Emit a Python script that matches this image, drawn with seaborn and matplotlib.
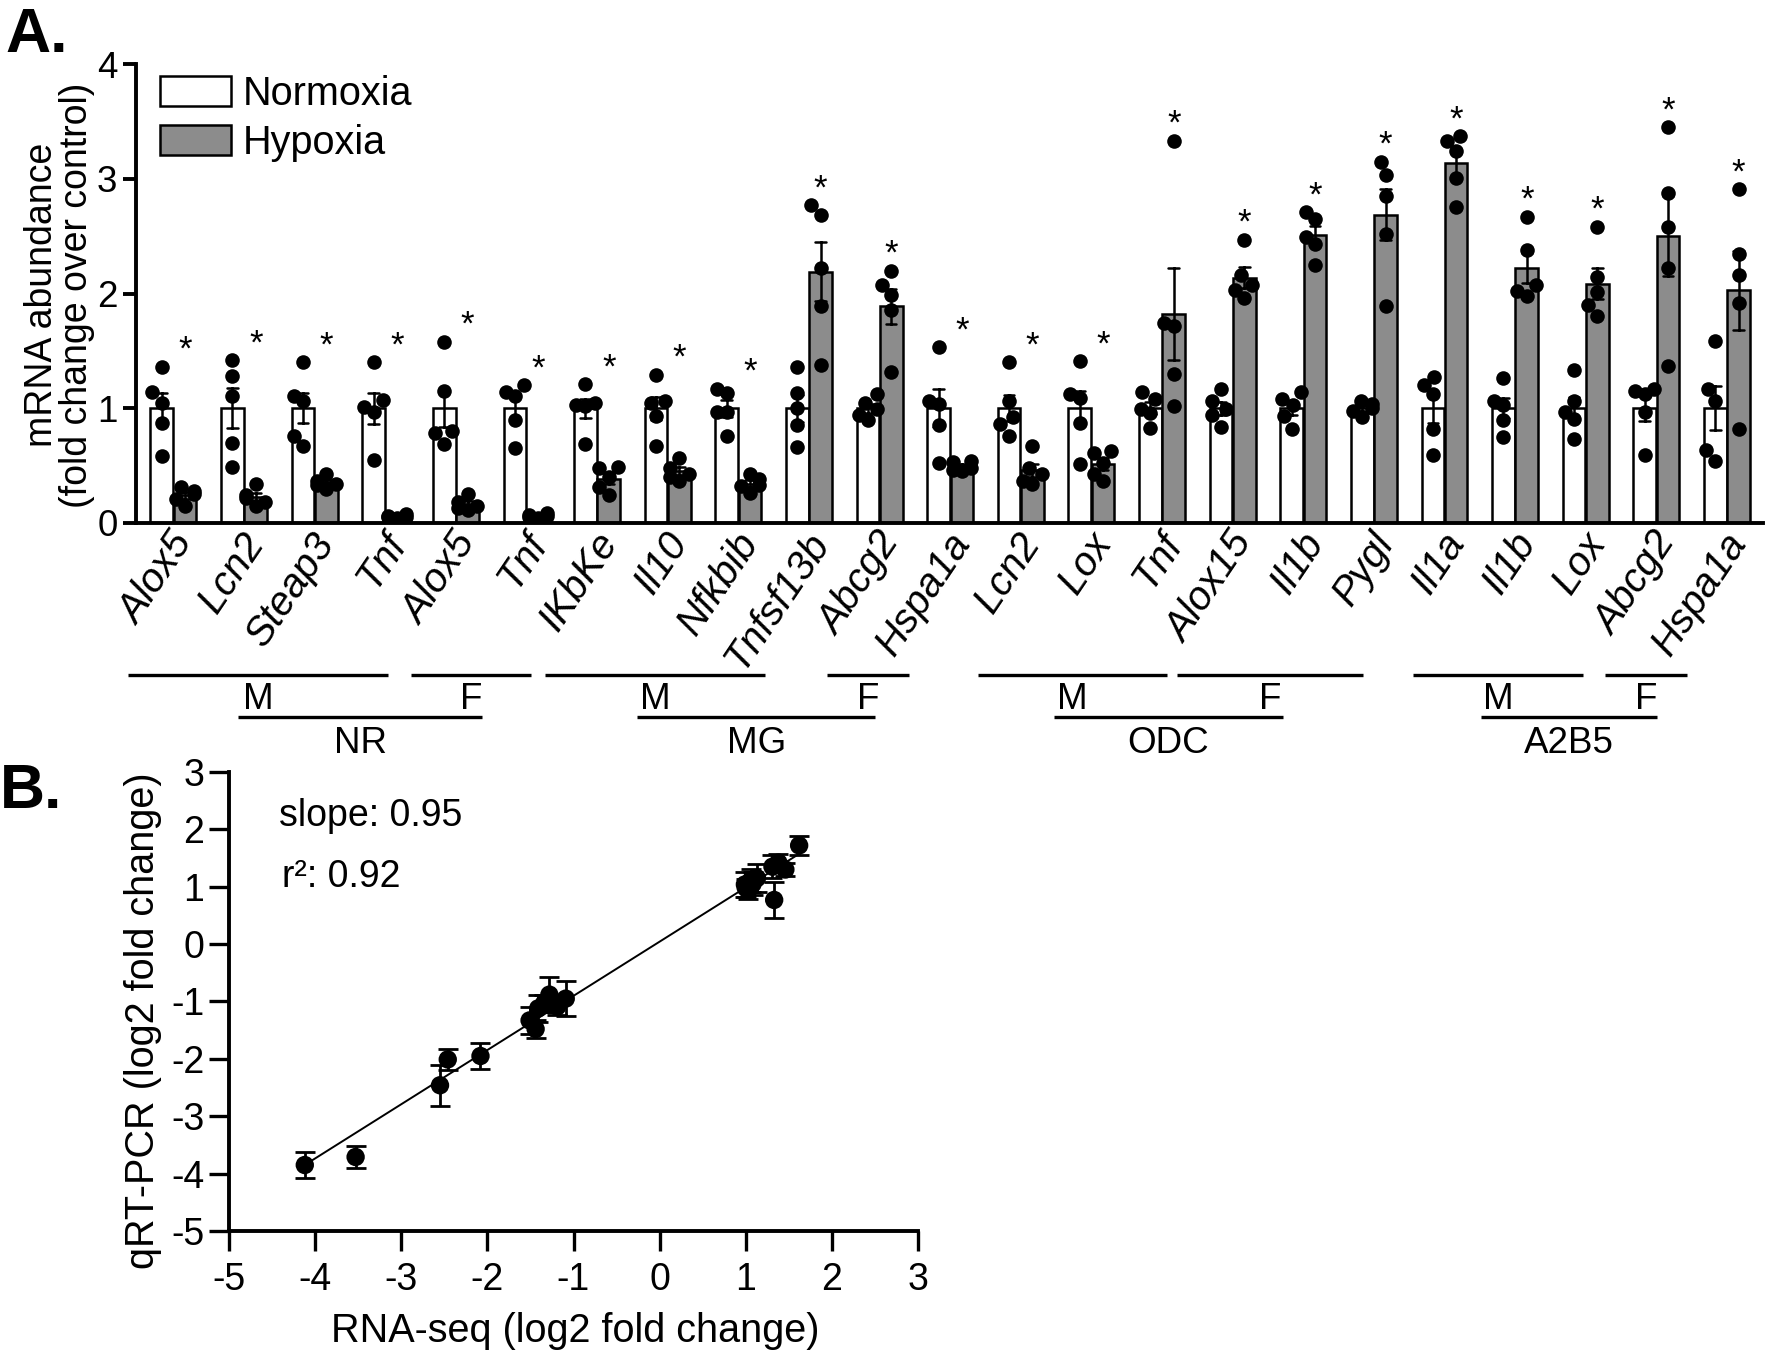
import numpy as np
import pandas as pd
import matplotlib
matplotlib.use("Agg")
import matplotlib.pyplot as plt
import matplotlib.transforms as mtransforms
import seaborn as sns

# ---------------- data (panel A) ----------------
genes = ["Alox5", "Lcn2", "Steap3", "Tnf", "Alox5", "Tnf", "IKbKe", "Il10",
         "Nfkbib", "Tnfsf13b", "Abcg2", "Hspa1a", "Lcn2", "Lox", "Tnf",
         "Alox15", "Il1b", "Pygl", "Il1a", "Il1b", "Lox", "Abcg2", "Hspa1a"]
conditions = ["Normoxia", "Hypoxia"]

normoxia_points = [
    [1.36, 1.14, 1.05, 0.87, 0.58],
    [1.42, 1.28, 1.11, 0.70, 0.49],
    [1.40, 1.11, 1.06, 0.76, 0.67],
    [1.40, 1.07, 1.01, 0.97, 0.55],
    [1.58, 1.15, 0.80, 0.78, 0.69],
    [1.20, 1.14, 1.11, 0.90, 0.65],
    [1.21, 1.05, 1.03, 1.02, 0.69],
    [1.29, 1.06, 1.05, 0.93, 0.67],
    [1.17, 1.13, 0.97, 0.97, 0.76],
    [1.36, 1.13, 1.00, 0.85, 0.66],
    [1.12, 1.05, 0.99, 0.94, 0.90],
    [1.53, 1.06, 1.04, 0.85, 0.52],
    [1.40, 1.06, 0.92, 0.86, 0.76],
    [1.41, 1.12, 1.09, 0.87, 0.51],
    [1.14, 1.08, 0.99, 0.96, 0.83],
    [1.17, 1.06, 0.99, 0.94, 0.84],
    [1.14, 1.08, 1.03, 0.93, 0.82],
    [1.06, 1.04, 1.00, 0.98, 0.92],
    [1.27, 1.20, 1.12, 0.82, 0.59],
    [1.26, 1.06, 1.03, 0.90, 0.75],
    [1.33, 1.06, 0.97, 0.91, 0.73],
    [1.17, 1.15, 1.12, 0.97, 0.59],
    [1.59, 1.17, 1.06, 0.64, 0.54],
]

hypoxia_points = [
    [0.31, 0.28, 0.25, 0.21, 0.15],
    [0.34, 0.24, 0.22, 0.18, 0.15],
    [0.43, 0.37, 0.34, 0.33, 0.30],
    [0.08, 0.06, 0.05, 0.05, 0.04],
    [0.25, 0.18, 0.15, 0.13, 0.11],
    [0.09, 0.07, 0.06, 0.05, 0.04],
    [0.49, 0.48, 0.40, 0.31, 0.24],
    [0.57, 0.48, 0.43, 0.40, 0.37],
    [0.43, 0.38, 0.33, 0.32, 0.26],
    [2.77, 2.68, 2.22, 1.89, 1.38],
    [2.20, 2.07, 1.99, 1.86, 1.32],
    [0.54, 0.53, 0.48, 0.46, 0.45],
    [0.67, 0.48, 0.43, 0.37, 0.34],
    [0.63, 0.61, 0.52, 0.43, 0.37],
    [3.33, 1.74, 1.72, 1.30, 1.02],
    [2.47, 2.16, 2.07, 2.03, 1.96],
    [2.71, 2.65, 2.49, 2.43, 2.25],
    [3.15, 3.03, 2.85, 2.52, 1.89],
    [3.37, 3.33, 3.24, 3.01, 2.75],
    [2.67, 2.38, 2.07, 2.02, 1.98],
    [2.58, 2.14, 2.01, 1.90, 1.80],
    [3.45, 2.88, 2.58, 2.22, 1.37],
    [2.91, 2.34, 2.16, 1.92, 0.82],
]

sex_labels = ["M", "F", "M", "F", "M", "F", "M", "F"]
cell_labels = ["NR", "MG", "ODC", "A2B5"]

# ---------------- data (panel B) ----------------
rna_seq = [-4.12, -3.53, -2.55, -2.46, -2.08, -1.51, -1.44, -1.41, -1.34,
           -1.28, -1.19, -1.09, 0.99, 1.03, 1.06, 1.13, 1.31, 1.38, 1.33,
           1.46, 1.62, 1.00, 1.08]
qpcr = [-3.85, -3.71, -2.46, -2.01, -1.95, -1.33, -1.48, -1.12, -1.03,
        -0.88, -1.09, -0.95, 1.04, 0.94, 1.11, 1.15, 1.35, 1.42, 0.77,
        1.30, 1.72, 0.98, 1.05]
qpcr_sem = [0.23, 0.20, 0.36, 0.19, 0.23, 0.24, 0.15, 0.24, 0.15, 0.30,
            0.15, 0.30, 0.22, 0.15, 0.20, 0.25, 0.20, 0.15, 0.31, 0.12,
            0.17, 0.15, 0.20]
slope_text = "slope: 0.95"
r2_text = "r\u00b2: 0.92"

# ---------------- layout (not data) ----------------
half = 0.165
sex_spans = [(-0.64, 3.04), (3.36, 5.06), (5.26, 8.38), (9.26, 10.42),
             (11.40, 14.07), (14.21, 16.85), (17.56, 19.96), (20.27, 21.44)]
cell_spans = [(0.92, 4.37), (6.57, 9.94), (12.47, 15.71), (18.51, 21.01)]

sns.set_style("ticks")
plt.rcParams["font.family"] = ["Liberation Sans", "DejaVu Sans"]
plt.rcParams["axes.unicode_minus"] = False
plt.rcParams["axes.linewidth"] = 2.8
for key in ["text.color", "axes.labelcolor", "xtick.color", "ytick.color",
            "axes.edgecolor"]:
    plt.rcParams[key] = "black"

W, H = 1770, 1356
fig = plt.figure(figsize=(W / 100, H / 100), dpi=100)

# ================= Panel A =================
axA = fig.add_axes([136 / W, 1 - 523 / H, (1763 - 136) / W, (523 - 64) / H])

rows = []
for i, g in enumerate(genes):
    for cond, pts in (("Normoxia", normoxia_points[i]), ("Hypoxia", hypoxia_points[i])):
        for v in pts:
            rows.append(dict(idx=i, gene=g, cond=cond,
                             pos=i + (-half if cond == "Normoxia" else half),
                             value=v))
df = pd.DataFrame(rows)

palette = {"Normoxia": "white", "Hypoxia": "#8c8c8c"}
sns.barplot(data=df, x="pos", y="value", hue="cond", hue_order=conditions,
            palette=palette, native_scale=True, width=0.97, errorbar="se",
            capsize=0.45, err_kws=dict(color="black", linewidth=1.8),
            edgecolor="black", linewidth=1.8, saturation=1, ax=axA)
sns.swarmplot(data=df, x="pos", y="value", native_scale=True, orient="x",
              color="black", size=10.5, linewidth=0, legend=False,
              warn_thresh=1, ax=axA)

# significance asterisks
for i in range(len(genes)):
    top = max(max(normoxia_points[i]), max(hypoxia_points[i]))
    axA.text(i + half, top + 0.06, "*", ha="center", va="baseline",
             fontsize=25)

axA.set_xlim(-0.53, 22.51)
axA.set_ylim(0, 4)
axA.set_yticks([0, 1, 2, 3, 4])
axA.set_xticks(range(len(genes)))
axA.set_xticklabels(genes, rotation=56, ha="right", va="center",
                    rotation_mode="anchor", fontstyle="italic", fontsize=29)
axA.tick_params(axis="x", length=0, pad=9.5)
axA.tick_params(axis="y", length=9.4, width=2.8, pad=4, labelsize=26.5)
offset = mtransforms.ScaledTranslation(0.12, 0, fig.dpi_scale_trans)
for lab in axA.get_xticklabels():
    lab.set_transform(lab.get_transform() + offset)
sns.despine(ax=axA)
axA.set_xlabel("")
axA.set_ylabel("mRNA abundance\n(fold change over control)", fontsize=27,
               linespacing=0.95)
axA.yaxis.set_label_coords(-0.0252, 0.497)

sns.move_legend(axA, "upper left", bbox_to_anchor=(0.01475, 0.976),
                frameon=False, title=None, fontsize=28.5, handlelength=1.79,
                handleheight=0.78, handletextpad=0.3, labelspacing=0.27,
                borderaxespad=0, borderpad=0)
leg = axA.get_legend()
for p in leg.get_patches():
    p.set_edgecolor("black")
    p.set_linewidth(1.8)

# group annotation bars under axis
for lab, (a, b) in zip(sex_labels, sex_spans):
    axA.plot([a, b], [-1.325, -1.325], color="black", lw=2.4, clip_on=False,
             solid_capstyle="butt")
    axA.text((a + b) / 2, -1.54, lab, ha="center", va="center", fontsize=26.5)
for lab, (a, b) in zip(cell_labels, cell_spans):
    axA.plot([a, b], [-1.69, -1.69], color="black", lw=2.4, clip_on=False,
             solid_capstyle="butt")
    axA.text((a + b) / 2, -1.92, lab, ha="center", va="center", fontsize=26.5)

# ================= Panel B =================
axB = fig.add_axes([229 / W, 1 - 1231 / H, (918 - 229) / W, (1231 - 772) / H])
sns.regplot(x=rna_seq, y=qpcr, scatter=False, ci=None, truncate=True,
            color="black", line_kws=dict(lw=1.4), ax=axB)
axB.errorbar(rna_seq, qpcr, yerr=qpcr_sem, fmt="none", ecolor="black",
             elinewidth=2.0, capsize=7, capthick=2.0, zorder=2)
sns.scatterplot(x=rna_seq, y=qpcr, color="black", s=175, edgecolor="none",
                ax=axB, zorder=3)
axB.set_xlim(-5, 3)
axB.set_ylim(-5, 3)
axB.set_xticks(range(-5, 4))
axB.set_yticks(range(-5, 4))
axB.tick_params(axis="both", length=14.4, width=2.4, labelsize=27)
axB.tick_params(axis="x", pad=8)
axB.tick_params(axis="y", pad=3.5)
sns.despine(ax=axB)
axB.set_xlabel("RNA-seq (log2 fold change)", fontsize=28.5)
axB.set_ylabel("qRT-PCR (log2 fold change)", fontsize=28.5)
axB.xaxis.set_label_coords(0.503, -0.176)
axB.yaxis.set_label_coords(-0.097, 0.459)
axB.text(0.0726, 0.882, slope_text, transform=axB.transAxes, fontsize=27,
         ha="left", va="baseline")
axB.text(0.077, 0.749, r2_text, transform=axB.transAxes, fontsize=27,
         ha="left", va="baseline")

# panel letters
fig.text(5 / W, 1 - 6 / H, "A.", fontsize=45, fontweight="bold",
         ha="left", va="top")
fig.text(0 / W, 1 - 762 / H, "B.", fontsize=45, fontweight="bold",
         ha="left", va="top")

fig.savefig("out.png", dpi=100)
